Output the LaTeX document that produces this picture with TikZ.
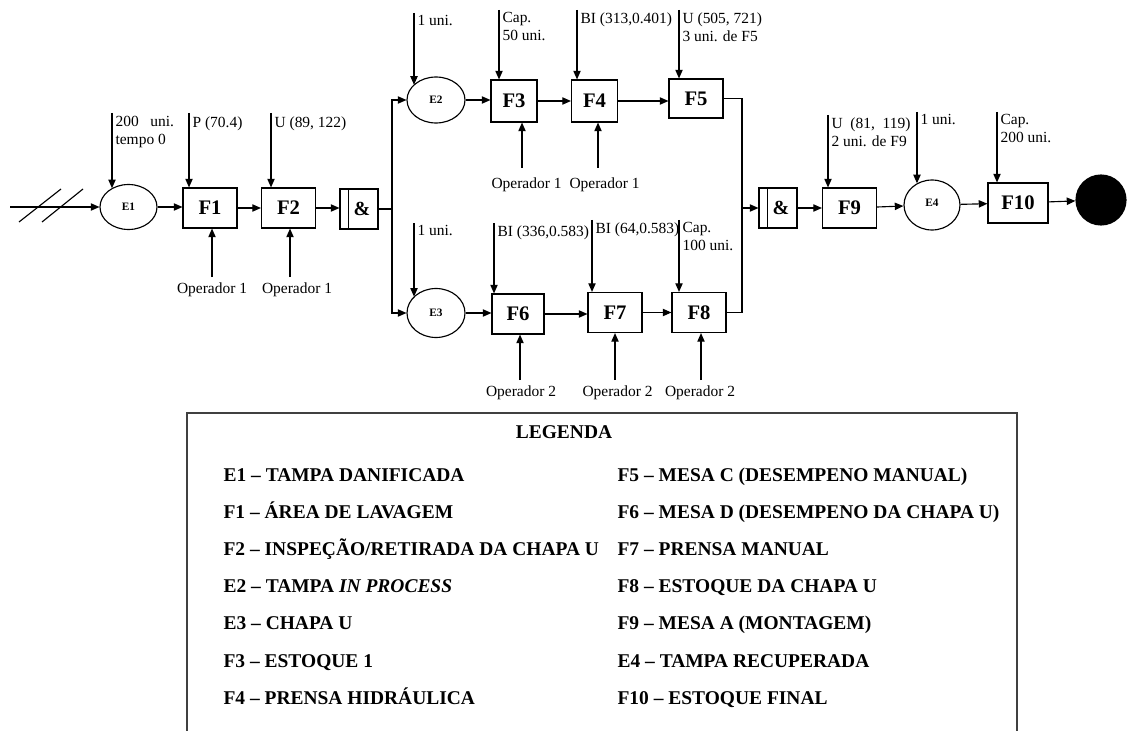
\documentclass[tikz,border=0pt]{standalone}
\usepackage{fontspec}
\setmainfont{Liberation Serif}
\usetikzlibrary{shapes.geometric,arrows.meta,calc}
\begin{document}
\begin{tikzpicture}[x=0.75pt,y=-0.75pt,
  line width=0.85pt,
  arr/.style={-{Triangle[length=6.5pt,width=5.5pt]}},
  fbox/.style={draw, rectangle, minimum width=40.5pt, minimum height=30pt, inner sep=0pt, font=\fontsize{15.5}{16}\selectfont\bfseries},
  ebox/.style={draw, ellipse, minimum width=43pt, minimum height=34pt, inner sep=0pt, font=\fontsize{8.5}{9}\selectfont\bfseries},
  andbox/.style={draw, rectangle, minimum width=28.5pt, minimum height=30pt, inner sep=0pt, font=\fontsize{15}{16}\selectfont\bfseries},
  lbl/.style={anchor=north west, inner sep=0pt, align=left, font=\fontsize{11.6}{13.5}\selectfont},
  oplbl/.style={inner sep=0pt, font=\fontsize{11.6}{13.5}\selectfont},
  leg/.style={anchor=base west, inner sep=0pt, font=\fontsize{14.6}{16}\selectfont\bfseries},
]
\useasboundingbox (0,0) rectangle (1128,731);

% ---- first row ----
\node[ebox, minimum width=42.75pt, minimum height=33.75pt] (e1) at (128.5,207) {E1};
\node[fbox] (f1) at (210,208) {F1};
\node[fbox] (f2) at (288.5,208) {F2};
\node[andbox] (and1) at (359,209) {\hspace{4.5pt}\&};
\draw ($(and1.north west)+(9,0)$) -- ($(and1.south west)+(9,0)$);

% ---- upper branch ----
\node[ebox, minimum width=43.5pt, minimum height=34.5pt] (e2) at (436,100) {E2};
\node[fbox, minimum width=34.5pt, minimum height=31.5pt] (f3) at (514,101) {F3};
\node[fbox, minimum width=34.5pt, minimum height=31.5pt] (f4) at (594.5,101) {F4};
\node[fbox, minimum height=29.25pt] (f5) at (696,98.5) {F5};

% ---- lower branch ----
\node[ebox, minimum width=43.5pt, minimum height=36.75pt] (e3) at (436,313) {E3};
\node[fbox, minimum width=39pt] (f6) at (518,314) {F6};
\node[fbox] (f7) at (615,312.5) {F7};
\node[fbox] (f8) at (699,312.5) {F8};

% ---- final row ----
\node[andbox] (and2) at (778,208) {\hspace{4.5pt}\&};
\draw ($(and2.north west)+(9,0)$) -- ($(and2.south west)+(9,0)$);
\node[fbox] (f9) at (849.5,208) {F9};
\node[ebox, minimum width=42pt, minimum height=37.5pt] (e4) at (932,205) {\raisebox{4pt}{E4}};
\node[fbox, minimum width=45pt] (f10) at (1018,203) {F10};
\node[ellipse, draw, fill=black, minimum width=37.5pt, minimum height=37.5pt] (fim) at (1101,200) {};

% ---- flow connectors ----
\coordinate (in0) at (10,207);
\draw[arr] (in0) -- (e1.west);
\draw (19,222) -- (61,189);
\draw (42,222) -- (83,189);
\draw[arr] (e1.east) -- (e1.east -| f1.west);
\draw[arr] (f1.east) -- (f2.west);
\draw[arr] (f2.east) -- (f2.east -| and1.west);
\coordinate (j1) at (392,209);
\draw (and1.east) -- (j1);
\draw[arr] (j1) |- (e2.west);
\draw[arr] (j1) |- (e3.west);
\draw[arr] (e2.east) -- (e2.east -| f3.west);
\draw[arr] (f3.east) -- (f4.west);
\draw[arr] (f4.east) -- (f4.east -| f5.west);
\draw[arr] (e3.east) -- (e3.east -| f6.west);
\draw[arr] (f6.east) -- (f6.east -| f7.west);
\draw[arr] (f7.east) -- (f8.west);
\coordinate (j2) at (742,208);
\draw (f5.east) -| (j2);
\draw (f8.east) -| (j2);
\draw[arr] (j2) -- (and2.west);
\draw[arr] (and2.east) -- (f9.west);
\draw[arr] (f9) -- (e4);
\draw[arr] (e4) -- (f10);
\draw[arr] (f10) -- (fim);

% ---- top inputs ----
\coordinate (ie1) at (112,113);
\coordinate (if1) at (189,113);
\coordinate (if2) at (271,113);
\coordinate (ie2) at (414,13);
\coordinate (if3) at (499,10);
\coordinate (if4) at (577,10);
\coordinate (if5) at (679,10);
\coordinate (ie3) at (414,223);
\coordinate (if6) at (494,223);
\coordinate (if7) at (592,220);
\coordinate (if8) at (679,220);
\coordinate (if9) at (828,115);
\coordinate (ie4) at (917,112);
\coordinate (if10) at (997,112);

\draw[arr] (ie1) -- (ie1 |- e1.132);
\draw[arr] (if1) -- (if1 |- f1.north);
\draw[arr] (if2) -- (if2 |- f2.north);
\draw[arr] (ie2) -- (ie2 |- e2.146);
\draw[arr] (if3) -- (if3 |- f3.north);
\draw[arr] (if4) -- (if4 |- f4.north);
\draw[arr] (if5) -- (if5 |- f5.north);
\draw[arr] (ie3) -- (ie3 |- e3.144);
\draw[arr] (if6) -- (if6 |- f6.north);
\draw[arr] (if7) -- (if7 |- f7.north);
\draw[arr] (if8) -- (if8 |- f8.north);
\draw[arr] (if9) -- (if9 |- f9.north);
\draw[arr] (ie4) -- (ie4 |- e4.125);
\draw[arr] (if10) -- (if10 |- f10.north);

\node[lbl] (t1) at ($(ie1)+(3,3)$) {200\ \ \ uni.\\tempo 0};
\node[lbl] (t2) at ($(if1)+(3,3)$) {P (70.4)};
\node[lbl] (t3) at ($(if2)+(3,3)$) {U (89, 122)};
\node[lbl] (t4) at ($(ie2)+(3,2)$) {1 uni.};
\node[lbl] (t5) at ($(if3)+(3,2)$) {Cap.\\50 uni.};
\node[lbl] (t6) at ($(if4)+(3,2)$) {BI (313,0.401)};
\node[lbl] (t7) at ($(if5)+(3,2)$) {U (505, 721)\\3 uni. de F5};
\node[lbl] (t8) at ($(ie3)+(3,2)$) {1 uni.};
\node[lbl] (t9) at ($(if6)+(3,2)$) {BI (336,0.583)};
\node[lbl] (t10) at ($(if7)+(3,2)$) {BI (64,0.583)};
\node[lbl] (t11) at ($(if8)+(3,2)$) {Cap.\\100 uni.};
\node[lbl] (t12) at ($(if9)+(3,2)$) {U\ \ (81,\ \ 119)\\2 uni. de F9};
\node[lbl] (t13) at ($(ie4)+(3,2)$) {1 uni.};
\node[lbl] (t14) at ($(if10)+(3,2)$) {Cap.\\200 uni.};

% ---- bottom inputs (operators) ----
\coordinate (of1) at (212,277);
\coordinate (of2) at (290,277);
\coordinate (of3) at (522,168);
\coordinate (of4) at (598,168);
\coordinate (of6) at (520,380);
\coordinate (of7) at (615,380);
\coordinate (of8) at (701,380);
\draw[arr] (of1) -- (of1 |- f1.south);
\draw[arr] (of2) -- (of2 |- f2.south);
\draw[arr] (of3) -- (of3 |- f3.south);
\draw[arr] (of4) -- (of4 |- f4.south);
\draw[arr] (of6) -- (of6 |- f6.south);
\draw[arr] (of7) -- (of7 |- f7.south);
\draw[arr] (of8) -- (of8 |- f8.south);
\node[oplbl] (o1) at (212,290) {Operador 1};
\node[oplbl] (o2) at (297,290) {Operador 1};
\node[oplbl] (o3) at (526.5,185) {Operador 1};
\node[oplbl] (o4) at (604.5,185) {Operador 1};
\node[oplbl] (o6) at (521,393) {Operador 2};
\node[oplbl] (o7) at (617.5,393) {Operador 2};
\node[oplbl] (o8) at (700,393) {Operador 2};

% ---- legend ----
\draw[line width=1.1pt, black!75] (187,731) -- (187,413) -- (1017,413) -- (1017,731);
\node[font=\fontsize{14.6}{16}\selectfont\bfseries, inner sep=0pt] (legt) at (564,432) {LEGENDA};
\foreach \t [count=\i from 0] in {E1 – TAMPA DANIFICADA, F1 – ÁREA DE LAVAGEM, F2 – INSPEÇÃO/RETIRADA DA CHAPA U, E2 – TAMPA \textit{IN PROCESS}, E3 – CHAPA U, F3 – ESTOQUE 1, F4 – PRENSA HIDRÁULICA}
  \node[leg] (la\i) at (223,481+37.2*\i) {\t};
\foreach \t [count=\i from 0] in {F5 – MESA C (DESEMPENO MANUAL), F6 – MESA D (DESEMPENO DA CHAPA U), F7 – PRENSA MANUAL, F8 – ESTOQUE DA CHAPA U, F9 – MESA A (MONTAGEM), E4 – TAMPA RECUPERADA, F10 – ESTOQUE FINAL}
  \node[leg] (lb\i) at (617,481+37.2*\i) {\t};
\end{tikzpicture}
\end{document}
